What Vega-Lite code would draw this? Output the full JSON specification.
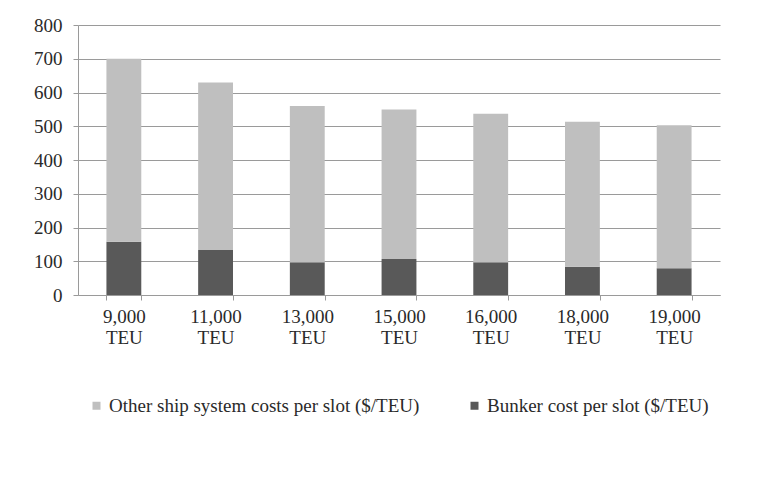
{
  "$schema": "https://vega.github.io/schema/vega-lite/v6.json",
  "width": 642,
  "height": 270,
  "autosize": {"type": "none"},
  "padding": {"left": 78, "top": 25, "right": 44, "bottom": 196},
  "background": "white",
  "data": {
    "values": [
      {"ship": "9,000 TEU", "series": "Bunker cost per slot ($/TEU)", "cost": 158},
      {"ship": "9,000 TEU", "series": "Other ship system costs per slot ($/TEU)", "cost": 542},
      {"ship": "11,000 TEU", "series": "Bunker cost per slot ($/TEU)", "cost": 133},
      {"ship": "11,000 TEU", "series": "Other ship system costs per slot ($/TEU)", "cost": 497},
      {"ship": "13,000 TEU", "series": "Bunker cost per slot ($/TEU)", "cost": 97},
      {"ship": "13,000 TEU", "series": "Other ship system costs per slot ($/TEU)", "cost": 463},
      {"ship": "15,000 TEU", "series": "Bunker cost per slot ($/TEU)", "cost": 107},
      {"ship": "15,000 TEU", "series": "Other ship system costs per slot ($/TEU)", "cost": 443},
      {"ship": "16,000 TEU", "series": "Bunker cost per slot ($/TEU)", "cost": 97},
      {"ship": "16,000 TEU", "series": "Other ship system costs per slot ($/TEU)", "cost": 440},
      {"ship": "18,000 TEU", "series": "Bunker cost per slot ($/TEU)", "cost": 84},
      {"ship": "18,000 TEU", "series": "Other ship system costs per slot ($/TEU)", "cost": 429},
      {"ship": "19,000 TEU", "series": "Bunker cost per slot ($/TEU)", "cost": 79},
      {"ship": "19,000 TEU", "series": "Other ship system costs per slot ($/TEU)", "cost": 424}
    ]
  },
  "mark": {"type": "bar"},
  "encoding": {
    "x": {
      "field": "ship",
      "type": "nominal",
      "sort": null,
      "title": null,
      "scale": {"paddingInner": 0.62, "paddingOuter": 0.31},
      "axis": {
        "labelAngle": 0,
        "labelExpr": "split(datum.label, ' ')",
        "labelLineHeight": 21,
        "labelPadding": 7,
        "tickBand": "extent",
        "tickSize": 5,
        "domainColor": "#9a9a9a",
        "tickColor": "#9a9a9a",
        "grid": false
      }
    },
    "y": {
      "field": "cost",
      "type": "quantitative",
      "stack": "zero",
      "title": null,
      "scale": {"domain": [0, 800], "nice": false},
      "axis": {
        "values": [0, 100, 200, 300, 400, 500, 600, 700, 800],
        "tickSize": 5,
        "labelPadding": 11,
        "domainColor": "#9a9a9a",
        "tickColor": "#9a9a9a",
        "gridColor": "#9a9a9a",
        "gridWidth": 1.2
      }
    },
    "color": {
      "field": "series",
      "type": "nominal",
      "scale": {
        "domain": ["Other ship system costs per slot ($/TEU)", "Bunker cost per slot ($/TEU)"],
        "range": ["#bfbfbf", "#595959"]
      },
      "legend": {
        "title": null,
        "orient": "none",
        "direction": "horizontal",
        "legendX": 9,
        "legendY": 371,
        "padding": 0,
        "symbolType": "square",
        "symbolSize": 64,
        "symbolStrokeWidth": 0,
        "labelOffset": 3,
        "labelLimit": 500,
        "columnPadding": 45
      }
    },
    "order": {"field": "series", "sort": "ascending"}
  },
  "config": {
    "font": "Liberation Serif",
    "view": {"stroke": null},
    "axis": {
      "labelFont": "Liberation Serif",
      "labelFontSize": 19,
      "labelColor": "#2a2a2a"
    },
    "legend": {
      "labelFont": "Liberation Serif",
      "labelFontSize": 19,
      "labelColor": "#2a2a2a"
    }
  }
}
